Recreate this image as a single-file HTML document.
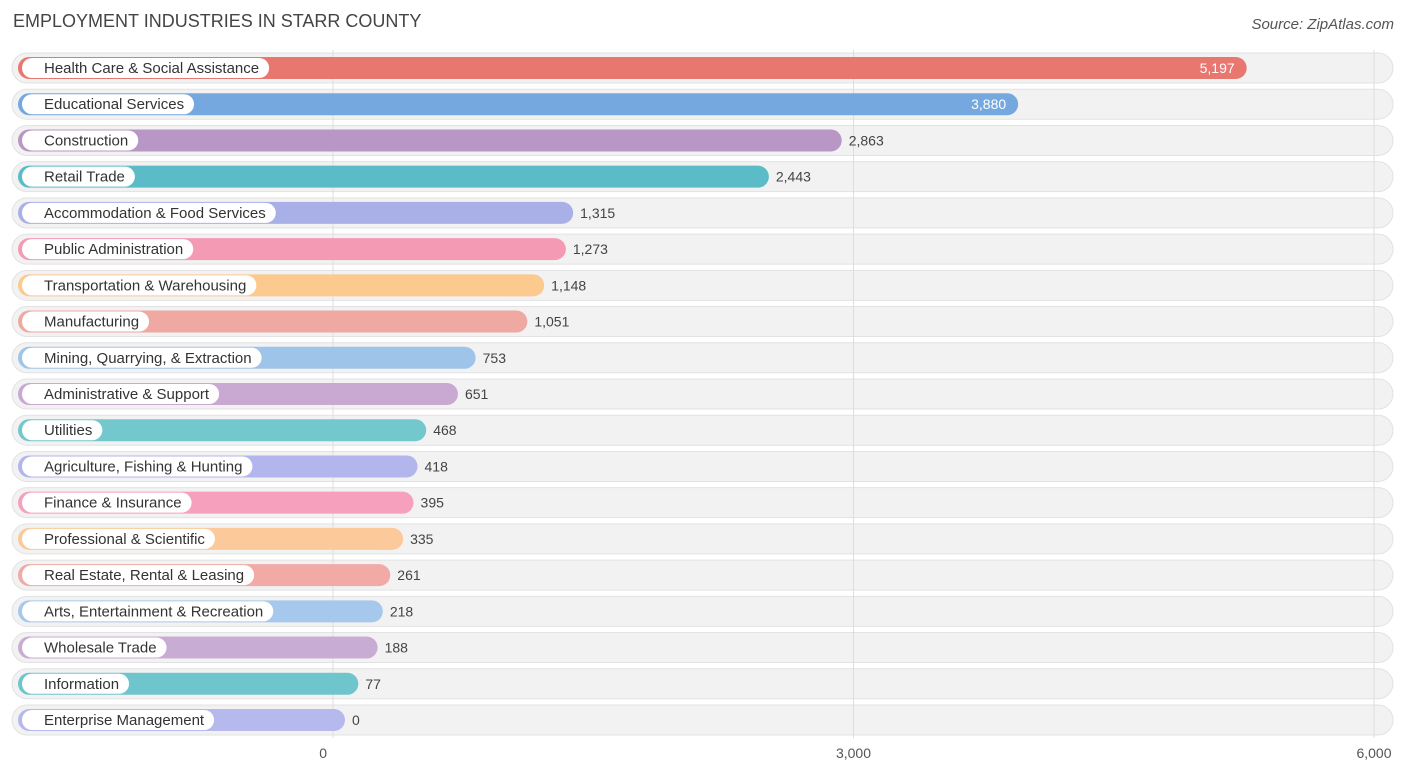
<!DOCTYPE html>
<html><head><meta charset="utf-8"><style>
body{margin:0;width:1406px;height:776px;background:#fff;font-family:"Liberation Sans",sans-serif;position:relative;overflow:hidden}
.title{position:absolute;left:13px;top:11px;font-size:18px;color:#444}
.src{position:absolute;right:12px;top:16px;font-size:15px;color:#555;font-style:italic}
svg{position:absolute;left:0;top:0}
</style></head><body>
<div class="title">EMPLOYMENT INDUSTRIES IN STARR COUNTY</div>
<div class="src">Source: ZipAtlas.com</div>
<svg id="chart" width="1406" height="776"></svg>
<script>
const categories=["Health Care & Social Assistance","Educational Services","Construction","Retail Trade","Accommodation & Food Services","Public Administration","Transportation & Warehousing","Manufacturing","Mining, Quarrying, & Extraction","Administrative & Support","Utilities","Agriculture, Fishing & Hunting","Finance & Insurance","Professional & Scientific","Real Estate, Rental & Leasing","Arts, Entertainment & Recreation","Wholesale Trade","Information","Enterprise Management"];
const values=[5197,3880,2863,2443,1315,1273,1148,1051,753,651,468,418,395,335,261,218,188,77,0];
const ticks=[0,3000,6000];
const tickLabels=["0","3,000","6,000"];
const colors=["#e8776f","#76a8e0","#b897c6","#5bbcc8","#a9b0e8","#f59ab5","#fcc98f","#f0a8a3","#9ec4ea","#c9a9d2","#72c8cc","#b2b6ec","#f7a0bd","#fcc99a","#f1aaa6","#a6c8ec","#c9acd4","#6fc5cc","#b5b9ee"];
const svg=document.getElementById('chart');const NS="http://www.w3.org/2000/svg";
const x=v=>333+v*(1374-333)/6000;
const y=i=>68+i*(720-68)/18;
function mk(t,a,p){const e=document.createElementNS(NS,t);for(const k in a)e.setAttribute(k,a[k]);(p||svg).appendChild(e);return e;}
const fmt=v=>v.toLocaleString('en-US');
categories.forEach((c,i)=>{
 const bg=mk('rect',{x:12,y:y(i)-15,width:1381,height:30,rx:15,fill:'#f2f2f2',stroke:'#e2e2e2'});
 
 
});
ticks.forEach((t,i)=>{
 const l=mk('line',{x1:x(t),x2:x(t),y1:50,y2:738,stroke:'#ddd'});
 
 
 const tx=mk('text',{x:x(t)-(i==0?6:0),y:758,'font-size':14,fill:'#555','text-anchor':i==0?'end':'middle'});
 tx.textContent=tickLabels[i];
 
 
});
categories.forEach((c,i)=>{
 const g=mk('g',{});
 
 
 const end=x(values[i])+12;
 const b=mk('rect',{x:18,y:y(i)-11,width:end-18,height:22,rx:11,fill:colors[i]},g);
 
 
 const lab=mk('text',{x:44,y:y(i)+5,'font-size':15,fill:'#333'},g);
 lab.textContent=c;
 
 
 const w=lab.getComputedTextLength();
 const pill=mk('rect',{x:22,y:y(i)-10,width:w+32,height:20,rx:10,fill:'#fff'},g);
 
 
 g.insertBefore(pill,lab);
 const inside=values[i]>3500;
 const vt=mk('text',{x:inside?end-12:end+7,y:y(i)+5,'font-size':14,fill:inside?'#fff':'#444','text-anchor':inside?'end':'start'},g);
 vt.textContent=fmt(values[i]);
 
 
});
</script>
</body></html>
